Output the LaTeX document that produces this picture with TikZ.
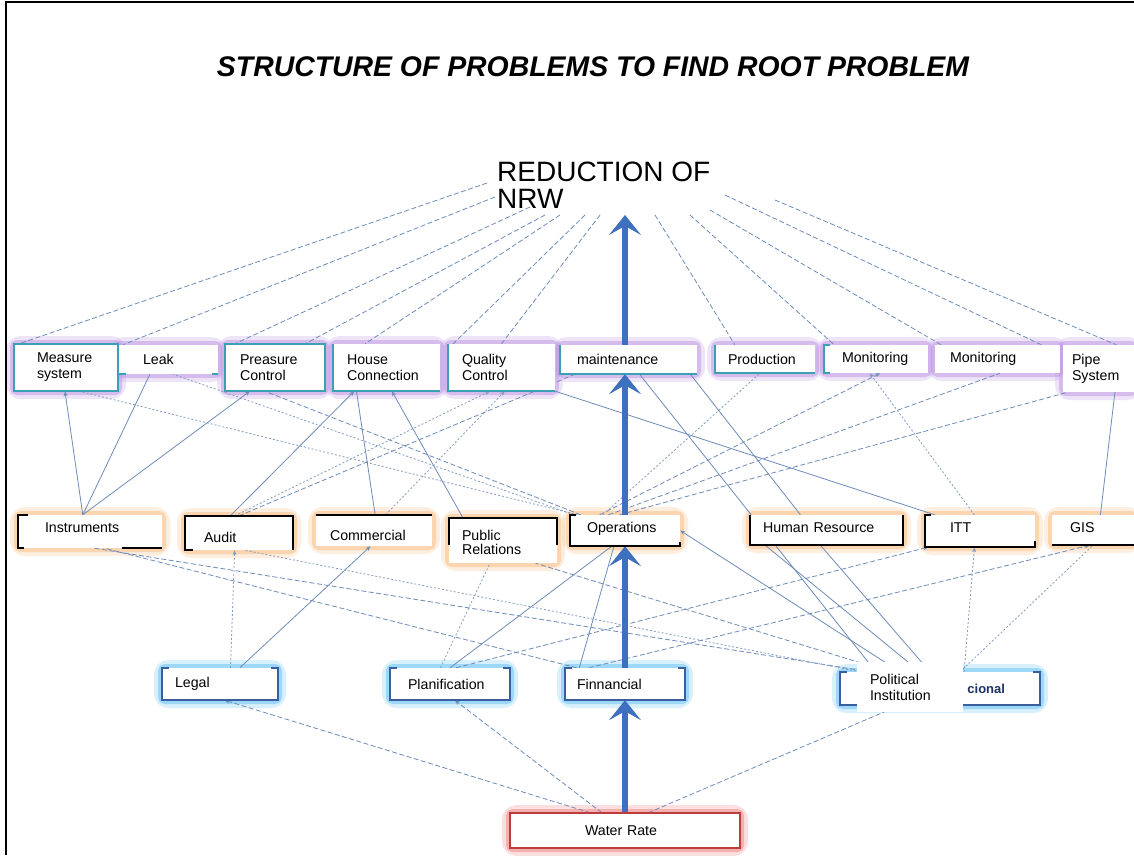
\documentclass[tikz,border=0pt]{standalone}
\usepackage{fontspec}
\setmainfont{Liberation Sans}
\usetikzlibrary{arrows.meta,calc}
\pgfdeclarelayer{glow}\pgfdeclarelayer{front}\pgfsetlayers{glow,main,front}
\definecolor{lnc}{RGB}{110,140,185}
\definecolor{arrowblue}{RGB}{62,112,192}
\definecolor{tealb}{RGB}{60,160,180}
\definecolor{purp}{RGB}{190,150,228}
\definecolor{orng}{RGB}{249,190,130}
\definecolor{lblue}{RGB}{100,195,245}
\definecolor{rglow}{RGB}{240,130,130}
\definecolor{rbord}{RGB}{190,60,60}
\definecolor{bbord}{RGB}{58,95,160}
\definecolor{navy}{RGB}{30,50,100}
\newcommand{\sh}[2]{\raisebox{#1}[\height][\depth]{#2}}
\newcommand{\mkbox}[8]{%
 \pgfmathsetmacro\bw{#5-#3}\pgfmathsetmacro\bh{#6-#4}\pgfmathsetmacro\off{#7-#3}\pgfmathsetmacro\tw{#5-#3-2*(#7-#3)}%
 \begin{pgfonlayer}{glow}
 \draw[#1glow,line width=16pt,opacity=.25,rounded corners=7pt] (#3,#4) rectangle (#5,#6);
 \draw[#1glow,line width=8pt,opacity=.5,rounded corners=3pt] (#3,#4) rectangle (#5,#6);
 \end{pgfonlayer}
 \begin{pgfonlayer}{front}
 \node[box,minimum width=\bw pt,minimum height=\bh pt,inner xsep=\off pt,text width=\tw pt] (#2) at ({(#3+#5)/2},{(#4+#6)/2}) {#8};
 \end{pgfonlayer}}
\tikzset{
 box/.style={fill=white, font=\fontsize{14.2}{16}\selectfont, align=left, inner ysep=0pt, draw=none},
 r1glow/.style={draw=purp}, r2glow/.style={draw=orng}, r3glow/.style={draw=lblue}, r4glow/.style={draw=rglow},
 ln/.style={draw=lnc, line width=0.8pt},
 lnA/.style={ln, -{Stealth[length=5pt,width=4pt]}},
 lnd/.style={ln, dash pattern=on 5pt off 2.5pt},
 lndA/.style={lnd, -{Stealth[length=5pt,width=4pt]}},
 lnt/.style={ln, draw=lnc!85, dash pattern=on 2pt off 2pt},
 lntA/.style={lnt, -{Stealth[length=5pt,width=4pt]}},
 bigarrow/.style={draw=arrowblue, line width=6pt, -{Stealth[length=20pt,width=32pt,inset=9pt,line width=1pt]}},
 tborder/.style={draw=tealb, line width=2pt},
 kborder/.style={draw=black, line width=2.4pt},
 bborder/.style={draw=bbord, line width=2.4pt}
}
\begin{document}
\begin{tikzpicture}[x=1pt,y=-1pt]
\useasboundingbox (0,0) rectangle (1134,855);
\begin{pgfonlayer}{glow}
\fill[white] (0,0) rectangle (1134,855);
\end{pgfonlayer}
\draw[line width=1.5pt] (6,855) -- (6,2) -- (1134,2);
\node[font=\fontsize{28.4}{30}\selectfont\bfseries\itshape] (title) at (593,67) {STRUCTURE OF PROBLEMS TO FIND ROOT PROBLEM};
\node[anchor=north west, font=\fontsize{28}{27}\selectfont, align=left, inner sep=0pt] (red) at (497,162) {REDUCTION OF\\NRW};
% row 1
\mkbox{r1}{ms}{14}{344}{118}{391}{37}{Measure\\system}
\mkbox{r1}{leak}{118}{345}{218}{374}{143}{Leak}
\mkbox{r1}{pc}{225}{344}{325}{391}{240}{Preasure\\Control}
\mkbox{r1}{hc}{333}{344}{440}{391}{347}{House\\Connection}
\mkbox{r1}{qc}{448}{344}{555}{391}{462}{Quality\\Control}
\mkbox{r1}{mt}{560}{345}{697}{374}{577}{maintenance}
\mkbox{r1}{pr}{715}{345}{815}{373}{728}{Production}
\mkbox{r1}{moa}{824}{345}{928}{373}{842}{Monitoring}
\mkbox{r1}{mob}{935}{345}{1060}{373}{950}{Monitoring}
\mkbox{r1}{ps}{1063}{345}{1134}{392}{1072}{Pipe\\System}
% row 2
\mkbox{r2}{ins}{18}{515}{162}{548}{45}{\sh{4pt}{Instruments}}
\mkbox{r2}{aud}{185}{516}{293}{550}{204}{\sh{-4pt}{Audit}}
\mkbox{r2}{com}{316}{515}{432}{546}{330}{\sh{-5pt}{Commercial}}
\mkbox{r2}{pub}{449}{518}{557}{563}{462}{\sh{-4pt}{\begin{tabular}{@{}l@{}}Public\\[-2pt]Relations\end{tabular}}}
\mkbox{r2}{ops}{570}{515}{680}{546}{587}{\sh{2pt}{Operations}}
\mkbox{r2}{hr}{750}{515}{903}{545}{763}{\sh{2pt}{Human Resource}}
\mkbox{r2}{itt}{925}{515}{1035}{547}{950}{\sh{3pt}{ITT}}
\mkbox{r2}{gis}{1052}{515}{1134}{545}{1070}{\sh{2pt}{GIS}}
% row 3
\mkbox{r3}{leg}{162}{668}{278}{700}{175}{Legal}
\mkbox{r3}{pla}{390}{668}{510}{700}{408}{Planification}
\mkbox{r3}{fin}{565}{668}{685}{700}{577}{Finnancial}
\begin{pgfonlayer}{glow}
 \draw[r3glow,line width=16pt,opacity=.25,rounded corners=7pt] (840,672) rectangle (1040,705);
 \draw[r3glow,line width=8pt,opacity=.5,rounded corners=3pt] (840,672) rectangle (1040,705);
\end{pgfonlayer}
\begin{pgfonlayer}{front}
\node[box, minimum width=200pt, minimum height=33pt, text width=130pt, inner xsep=35pt, align=right, font=\fontsize{13}{14}\selectfont\bfseries, text=navy] (pol) at (940,688.5) {cional};
\end{pgfonlayer}
% bottom
\mkbox{r4}{wat}{510}{813}{740}{848}{585}{Water Rate}
% borders
\begin{pgfonlayer}{front}
\draw[tborder] (ms.north west) rectangle (ms.south east);
\draw[tborder] (pc.north west) rectangle (pc.south east);
\foreach \n in {hc,qc,mt,pr} \draw[tborder] (\n.north west) -- (\n.south west) -- (\n.south east);
\draw[tborder] ([xshift=6pt]moa.north west) -- (moa.north west) -- (moa.south west) -- ([xshift=6pt]moa.south west);
\draw[tborder] (leak.south west) -- ([xshift=8pt]leak.south west);
\draw[tborder] ([xshift=-6pt]leak.south east) -- (leak.south east);
\draw[kborder] ([xshift=10pt]ins.north west) -- (ins.north west) -- (ins.south west) -- ([xshift=6pt]ins.south west);
\draw[kborder] ([xshift=-40pt]ins.south east) -- (ins.south east);
\draw[kborder] ([xshift=8pt]aud.south west) -- (aud.south west) -- (aud.north west) -- (aud.north east) -- (aud.south east);
\draw[kborder] (com.north west) -- (com.north east);
\draw[kborder] ([yshift=-27pt]pub.north west) -- (pub.north west) -- (pub.north east) -- ([yshift=-27pt]pub.north east);
\draw[kborder] ([xshift=6pt]ops.north west) -- (ops.north west) -- (ops.south west) -- (ops.south east) -- ([yshift=4pt]ops.south east);
\draw[kborder] (hr.north west) -- (hr.south west) -- (hr.south east) -- (hr.north east);
\draw[kborder] ([xshift=6pt]itt.north west) -- (itt.north west) -- (itt.south west) -- (itt.south east) -- ([yshift=6pt]itt.south east);
\draw[kborder] (gis.south west) -- (gis.south east);
\foreach \n in {leg,pla,fin,pol} \draw[bborder] ([xshift=7pt]\n.north west) -- (\n.north west) -- (\n.south west) -- (\n.south east) -- (\n.north east) -- ([xshift=-7pt]\n.north east);
\draw[draw=rbord, line width=2pt] (wat.north west) rectangle (wat.south east);
\node[box, minimum width=106pt, minimum height=50pt, inner xsep=13pt, text width=80pt] (polw) at (910,687) {Political\\Institution};
\end{pgfonlayer}
% thin connectors: reduction to row 1
\foreach \dx/\dy/\b/\fb in {-10/21/ms/.05, -2/35/leak/.05, 33/45/pc/.1, 48/53/pc/.8, 63/53/hc/.3, 88/53/qc/.05, 103/53/qc/.5, 158/53/pr/.2, 193/53/moa/.1, 213/48/mob/.05, 228/33/mob/.85, 278/38/ps/.75}
 \draw[lnd] ($(red.north west)+(\dx,\dy)$) -- ($(\b.north west)!\fb!(\b.north east)$);
% row 2 to row 1
\foreach \a/\fa/\b/\fb/\s in {ins/.45/ms/.49/lnA, ins/.45/leak/.32/ln, ins/.45/pc/.25/lnA,
 ops/.07/ms/.63/lnt, ops/.1/pc/.4/lnd, ops/.04/leak/.55/lnt,
 aud/.42/hc/.2/lnA, com/.51/hc/.22/ln, pub/.13/hc/.55/lnA,
 aud/.46/qc/.39/lntA, aud/.5/mt/.11/lnd, com/.6/qc/.53/lntA,
 ops/.27/moa/.54/lndA, ops/.35/mob/.52/lnd, ops/.45/ps/.07/lnd, ops/.3/pr/.45/lnt,
 itt/.09/qc/1/ln, hr/.33/mt/.95/ln, itt/.45/moa/.44/lntA, gis/.59/ps/.73/ln}
 \draw[\s] ($(\a.north west)!\fa!(\a.north east)$) -- ($(\b.south west)!\fb!(\b.south east)$);
\draw[ln] ($(pol.north west)!.18!(pol.north east)$) -- ($(mt.south west)!.58!(mt.south east)$);
% row 3 to row 2
\foreach \a/\fa/\b/\fb/\s in {leg/.59/aud/.46/lntA, leg/.67/com/.47/lnA, pol/.15/ins/.53/lnd, fin/.1/ins/.6/lnd,
 pol/.1/aud/.55/lnt, pla/.42/pub/.38/lnt, pla/.5/ops/.38/ln, fin/.12/ops/.4/ln, pla/.55/itt/.03/lndA,
 fin/.2/gis/.46/lndA, pol/.6/gis/.5/lnt, pol/.62/itt/.45/lntA, pol/.45/hr/.46/ln, pol/.25/pub/.8/lnd, pol/.4/hr/.1/ln}
 \draw[\s] ($(\a.north west)!\fa!(\a.north east)$) -- ($(\b.south west)!\fb!(\b.south east)$);
\draw[lnA] ($(pol.north west)!.3!(pol.north east)$) -- (ops.east);
% water rate to row 3
\foreach \a/\fa/\b/\fb/\s in {wat/.35/leg/.54/lndA, wat/.4/pla/.54/lndA, wat/.6/pol/.3/lnd}
 \draw[\s] ($(\a.north west)!\fa!(\a.north east)$) -- ($(\b.south west)!\fb!(\b.south east)$);
% thick arrows
\draw[bigarrow] (wat.north) -- (wat.north |- fin.south);
\draw[bigarrow] (wat.north |- fin.north) -- (wat.north |- ops.south);
\draw[bigarrow] (wat.north |- ops.north) -- (wat.north |- mt.south);
\draw[bigarrow] (wat.north |- mt.north) -- ($(red.south -| wat.north)+(0,6)$);
\end{tikzpicture}
\end{document}
